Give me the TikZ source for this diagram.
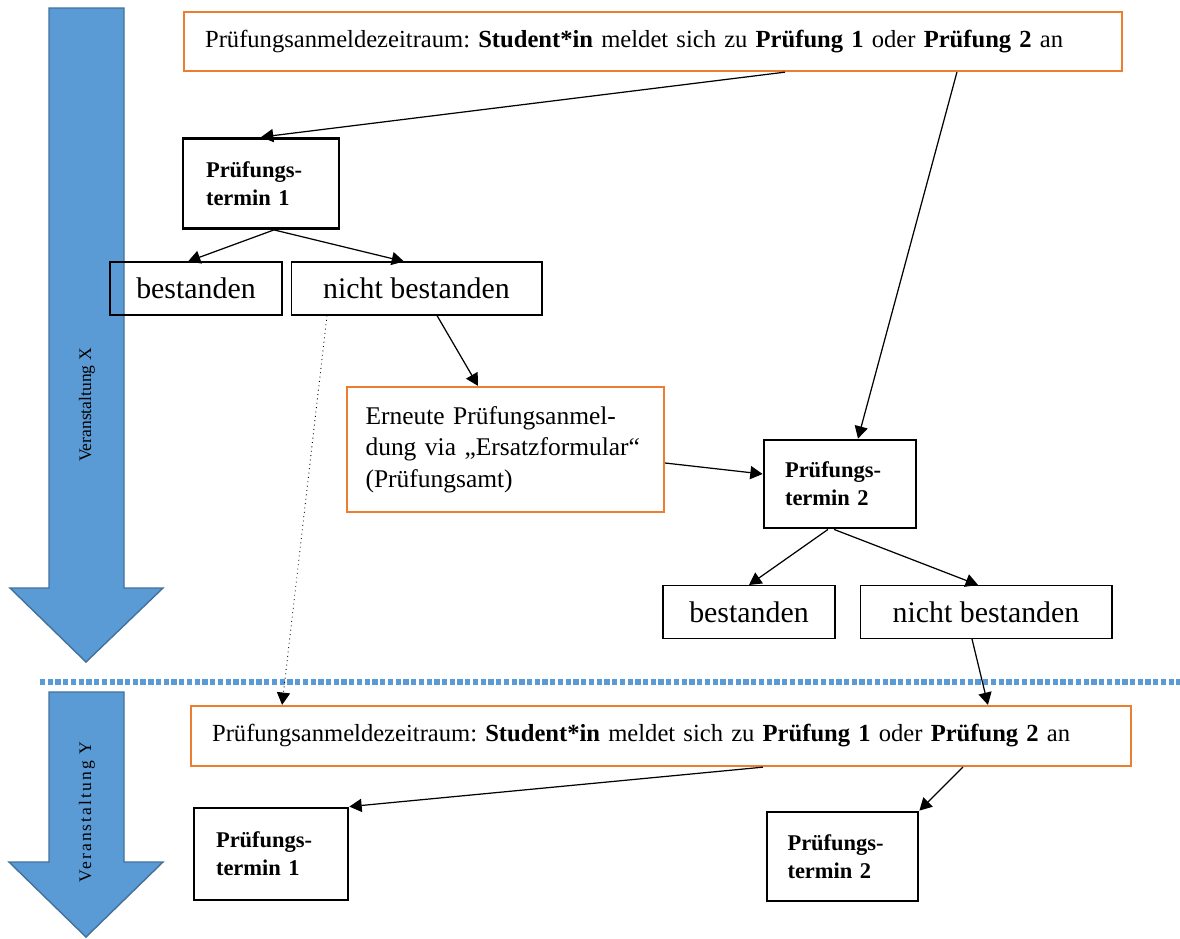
\documentclass[tikz,border=0pt]{standalone}
\usepackage{fontspec}
\setmainfont{Liberation Serif}
\usetikzlibrary{arrows.meta}
\definecolor{flowblue}{HTML}{5B9BD5}
\definecolor{flowblueedge}{HTML}{41719C}
\definecolor{floworange}{HTML}{ED7D31}
\frenchspacing

\begin{document}
\begin{tikzpicture}[x=0.02cm, y=-0.02cm,
	regbox/.style={shape=rectangle, draw=floworange, line width=1.3pt, align=left, inner xsep=0.42cm, minimum height=1.18cm, font=\fontsize{14}{17}\selectfont},
	termbox/.style={shape=rectangle, draw=black, line width=1.6pt, align=left, text width=2.2cm, minimum height=1.8cm, font=\fontsize{12.8}{16}\selectfont\bfseries},
	resbox/.style={shape=rectangle, draw=black, line width=0.6pt, minimum height=1.06cm, font=\fontsize{17}{20}\selectfont},
	conn/.style={-{Triangle[length=7pt,width=7.5pt]}, line width=0.7pt},
	bigarrow/.style={fill=flowblue, draw=flowblueedge, line width=0.8pt}]
	\useasboundingbox (0,0) rectangle (1180,938);
	
	\draw[bigarrow] (49,8) -- (124,8) -- (124,588) -- (163,588) -- (86,662) -- (10,588) -- (49,588) -- cycle;
	\draw (87,405) node[rotate=90, font=\fontsize{10}{12}\selectfont](veranstX){Veranstaltung X};
	
	\draw[bigarrow] (49,692) -- (124,692) -- (124,862) -- (163,862) -- (86,937) -- (9,862) -- (49,862) -- cycle;
	\draw (87,812) node[rotate=90, font=\fontsize{10}{12}\selectfont](veranstY){\addfontfeature{LetterSpace=12}Veranstaltung Y};
	
	\draw[flowblue, line width=3pt, dash pattern=on 3pt off 1.4pt] (40,682) -- (1180,682);
	
	\draw (653,41.5) node[regbox, text width=17.92cm](topreg){Prüfungsanmeldezeitraum: \textbf{Student*in} meldet sich zu \textbf{Prüfung 1} oder \textbf{Prüfung 2} an};
	
	\draw (261,183.5) node[termbox, inner xsep=0.46cm](ptA){Prüfungs-\\termin 1};
	\draw (196,288.5) node[resbox, minimum width=3.44cm](bestA){bestanden};
	\draw (416.5,288.5) node[resbox, minimum width=5.02cm](nbestA){nicht bestanden};
	
	\draw (505.5,449.5) node[regbox, text width=5.6cm, inner xsep=0.37cm, minimum height=2.5cm, font=\fontsize{14.5}{18}\selectfont](erneut){Erneute Prüfungsanmel-\\dung via „Ersatzformular“\\(Prüfungsamt)};
	
	\draw (840,484) node[termbox, inner xsep=0.42cm, minimum height=1.76cm](ptB){Prüfungs-\\termin 2};
	\draw (749,612) node[resbox, minimum width=3.44cm](bestB){bestanden};
	\draw (986,612) node[resbox, minimum width=5.04cm](nbestB){nicht bestanden};
	
	\draw (661,736) node[regbox, text width=17.96cm, minimum height=1.2cm](botreg){Prüfungsanmeldezeitraum: \textbf{Student*in} meldet sich zu \textbf{Prüfung 1} oder \textbf{Prüfung 2} an};
	
	\draw (271,854) node[termbox, inner xsep=0.44cm, minimum height=1.84cm](ptC){Prüfungs-\\termin 1};
	\draw (842.5,856.5) node[termbox, inner xsep=0.41cm, minimum height=1.78cm](ptD){Prüfungs-\\termin 2};
	
	\draw[conn] ([xshift=2.64cm]topreg.south) -- (ptA.north);
	\draw[conn] ([xshift=6.08cm]topreg.south) -- ([xshift=0.36cm]ptB.north);
	\draw[conn] ([xshift=0.26cm]ptA.south) -- ([xshift=-0.16cm]bestA.north);
	\draw[conn] ([xshift=0.26cm]ptA.south) -- ([xshift=-0.25cm]nbestA.north);
	\draw[conn] ([xshift=0.41cm]nbestA.south) -- ([xshift=-0.55cm]erneut.north);
	\draw[conn] ([yshift=-0.27cm]erneut.east) -- ([yshift=0.2cm]ptB.west);
	\draw[conn] ([xshift=-0.24cm]ptB.south) -- (bestB.north);
	\draw[conn] ([xshift=-0.12cm]ptB.south) -- ([xshift=-0.16cm]nbestB.north);
	\draw[conn, line width=0.5pt, dotted] ([xshift=-1.79cm]nbestA.south) -- ([xshift=-7.58cm]botreg.north);
	\draw[conn] ([xshift=-0.28cm]nbestB.south) -- ([xshift=6.54cm]botreg.north);
	\draw[conn] ([xshift=2.04cm]botreg.south) -- (ptC.north east);
	\draw[conn] ([xshift=6.04cm]botreg.south) -- (ptD.north east);
\end{tikzpicture}
\end{document}
